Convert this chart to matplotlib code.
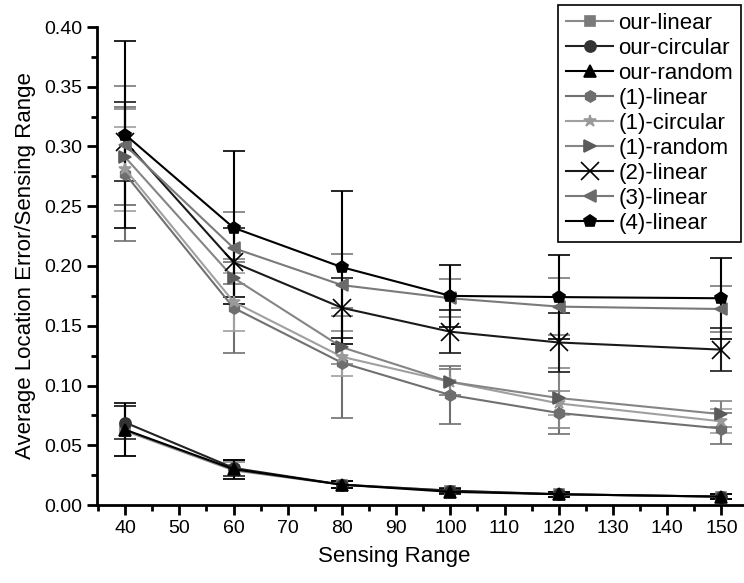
import numpy as np
import matplotlib.pyplot as plt
from matplotlib.ticker import MultipleLocator

plt.rcParams['font.family'] = ['Liberation Sans', 'DejaVu Sans']

# portée de détection
sensing_range = [40, 60, 80, 100, 120, 150]

# erreurs moyennes (normalisées par la portée) et écarts
our_linear = [0.062, 0.029, 0.017, 0.012, 0.009, 0.007]
our_linear_err = [0.021, 0.007, 0.003, 0.002, 0.002, 0.002]
our_circular = [0.069, 0.031, 0.017, 0.012, 0.009, 0.007]
our_circular_err = [0.014, 0.007, 0.003, 0.002, 0.002, 0.002]
our_random = [0.063, 0.030, 0.017, 0.011, 0.009, 0.007]
our_random_err = [0.022, 0.008, 0.003, 0.002, 0.002, 0.002]
l1_linear = [0.277, 0.165, 0.119, 0.092, 0.077, 0.064]
l1_linear_err = [0.056, 0.038, 0.046, 0.024, 0.018, 0.013]
l1_circular = [0.281, 0.170, 0.124, 0.103, 0.085, 0.070]
l1_circular_err = [0.035, 0.024, 0.016, 0.011, 0.010, 0.010]
l1_random = [0.291, 0.190, 0.132, 0.103, 0.0895, 0.076]
l1_random_err = [0.040, 0.016, 0.014, 0.011, 0.025, 0.011]
l2_linear = [0.304, 0.203, 0.165, 0.145, 0.136, 0.130]
l2_linear_err = [0.033, 0.029, 0.025, 0.018, 0.025, 0.018]
l3_linear = [0.301, 0.215, 0.184, 0.173, 0.166, 0.164]
l3_linear_err = [0.050, 0.030, 0.026, 0.016, 0.024, 0.019]
l4_linear = [0.310, 0.232, 0.199, 0.175, 0.174, 0.173]
l4_linear_err = [0.078, 0.064, 0.064, 0.026, 0.035, 0.034]

series = [
    ('our-linear', our_linear, our_linear_err, 's', '#7a7a7a', '#8a8a8a', 7),
    ('our-circular', our_circular, our_circular_err, 'o', '#333333', '#222222', 8),
    ('our-random', our_random, our_random_err, '^', '#000000', '#000000', 8),
    ('(1)-linear', l1_linear, l1_linear_err, 'h', '#6e6e6e', '#707070', 8),
    ('(1)-circular', l1_circular, l1_circular_err, '*', '#9a9a9a', '#a0a0a0', 9),
    ('(1)-random', l1_random, l1_random_err, '>', '#5a5a5a', '#858585', 8),
    ('(2)-linear', l2_linear, l2_linear_err, 'x', '#000000', '#1a1a1a', 13),
    ('(3)-linear', l3_linear, l3_linear_err, '<', '#6a6a6a', '#7a7a7a', 8),
    ('(4)-linear', l4_linear, l4_linear_err, 'p', '#000000', '#000000', 9),
]

fig = plt.figure(figsize=(7.44, 5.83), dpi=100)
ax = fig.add_axes([97/744, 78/583, 646/744, 478/583])

handles = []
labels = []
for label, y, err, m, mc, lc, ms in series:
    cont = ax.errorbar(sensing_range, y, yerr=err, marker=m, ms=ms, color=lc,
                       mfc=mc, mec=mc, mew=1.2, lw=1.5, ecolor=lc, elinewidth=1.5,
                       capsize=8, capthick=1.5)
    handles.append(cont[0])  # ligne seule pour la légende
    labels.append(label)

ax.set_xlim(34.8, 154)
ax.set_ylim(0, 0.40)
ax.xaxis.set_minor_locator(MultipleLocator(5))
ax.yaxis.set_major_locator(MultipleLocator(0.05))
ax.yaxis.set_minor_locator(MultipleLocator(0.025))
ax.set_xticks(sensing_range[:1] + list(range(50, 151, 10)))
ax.yaxis.set_major_formatter(plt.FormatStrFormatter('%.2f'))

for s in ['top', 'right']:
    ax.spines[s].set_visible(False)
for s in ['left', 'bottom']:
    ax.spines[s].set_linewidth(2)

ax.tick_params(which='major', direction='out', length=7, width=2, labelsize=14)
ax.tick_params(which='minor', direction='out', length=4, width=2)

ax.set_xlabel('Sensing Range', fontsize=16)
ax.xaxis.set_label_coords(0.46, -0.085)
ax.set_ylabel('Average Location Error/Sensing Range', fontsize=16, labelpad=6)

leg = ax.legend(handles, labels, loc='upper right', bbox_to_anchor=(741/744, 1 - 5/583),
                bbox_transform=fig.transFigure, fontsize=16, frameon=True,
                fancybox=False, edgecolor='black', borderaxespad=0,
                handlelength=2.1, labelspacing=0.18, handletextpad=0.25,
                borderpad=0.35)
leg.get_frame().set_linewidth(1.2)
leg.get_frame().set_alpha(1)

fig.savefig('out.png', dpi=100)
